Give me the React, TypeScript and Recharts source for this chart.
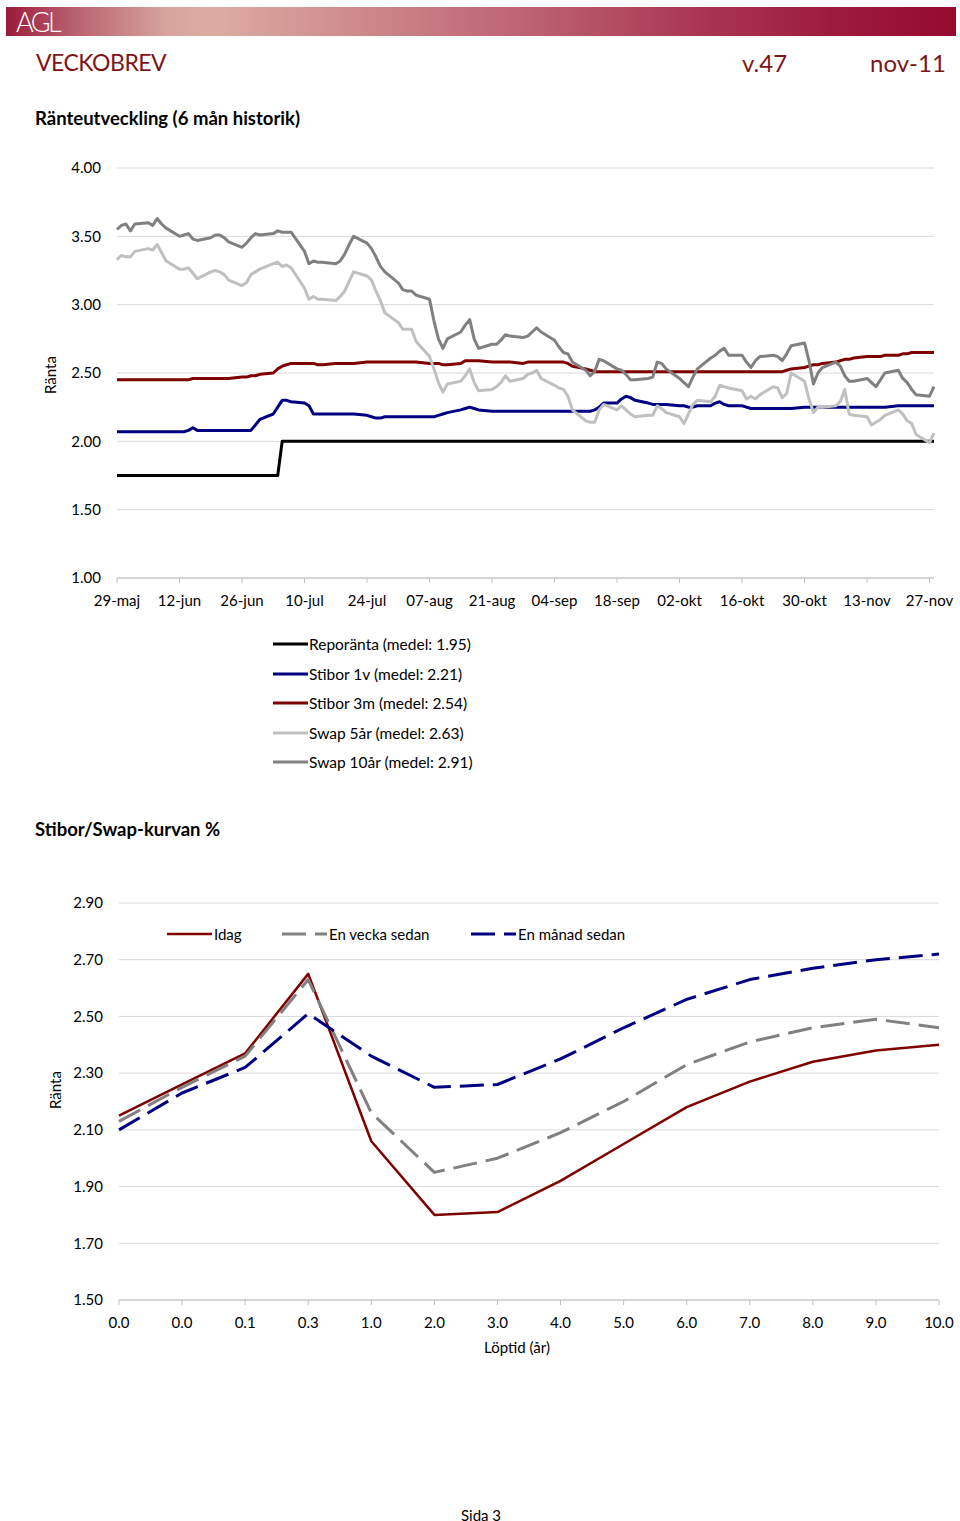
import React from 'react';
import { LineChart, Line, XAxis, YAxis, CartesianGrid } from 'recharts';

const FONT = 'Lato, "Open Sans", sans-serif';

// ---- Ränteutveckling (6 mån historik) ----
const dateLabels = ['29-maj', '12-jun', '26-jun', '10-jul', '24-jul', '07-aug', '21-aug', '04-sep', '18-sep', '02-okt', '16-okt', '30-okt', '13-nov', '27-nov'];
const dateTicks = dateLabels.map((_, i) => i * 14);

// calendar-day offset of every trading day (Mon-Fri), counted from the first axis date
const tradeDays: number[] = [];
for (let w = 0; w < 26; w++) for (let k = 0; k < 5; k++) tradeDays.push(w * 7 + k);
tradeDays.push(182, 183);

// one row per week, 5 trading days each
const repo = [
  1.75, 1.75, 1.75, 1.75, 1.75,
  1.75, 1.75, 1.75, 1.75, 1.75,
  1.75, 1.75, 1.75, 1.75, 1.75,
  1.75, 1.75, 1.75, 1.75, 1.75,
  1.75, 1.75, 1.75, 1.75, 1.75,
  1.75, 1.75, 2.0, 2.0, 2.0,
  2.0, 2.0, 2.0, 2.0, 2.0,
  2.0, 2.0, 2.0, 2.0, 2.0,
  2.0, 2.0, 2.0, 2.0, 2.0,
  2.0, 2.0, 2.0, 2.0, 2.0,
  2.0, 2.0, 2.0, 2.0, 2.0,
  2.0, 2.0, 2.0, 2.0, 2.0,
  2.0, 2.0, 2.0, 2.0, 2.0,
  2.0, 2.0, 2.0, 2.0, 2.0,
  2.0, 2.0, 2.0, 2.0, 2.0,
  2.0, 2.0, 2.0, 2.0, 2.0,
  2.0, 2.0, 2.0, 2.0, 2.0,
  2.0, 2.0, 2.0, 2.0, 2.0,
  2.0, 2.0, 2.0, 2.0, 2.0,
  2.0, 2.0, 2.0, 2.0, 2.0,
  2.0, 2.0, 2.0, 2.0, 2.0,
  2.0, 2.0, 2.0, 2.0, 2.0,
  2.0, 2.0, 2.0, 2.0, 2.0,
  2.0, 2.0, 2.0, 2.0, 2.0,
  2.0, 2.0, 2.0, 2.0, 2.0,
  2.0, 2.0, 2.0, 2.0, 2.0,
  2.0, 2.0,
];

const stibor1v = [
  2.07, 2.07, 2.07, 2.07, 2.07,
  2.07, 2.07, 2.07, 2.07, 2.07,
  2.07, 2.07, 2.08, 2.10, 2.08,
  2.08, 2.08, 2.08, 2.08, 2.08,
  2.08, 2.08, 2.08, 2.12, 2.16,
  2.20, 2.25, 2.30, 2.30, 2.29,
  2.28, 2.26, 2.20, 2.20, 2.20,
  2.20, 2.20, 2.20, 2.20, 2.20,
  2.19, 2.18, 2.17, 2.17, 2.18,
  2.18, 2.18, 2.18, 2.18, 2.18,
  2.18, 2.18, 2.19, 2.20, 2.21,
  2.23, 2.24, 2.25, 2.24, 2.23,
  2.22, 2.22, 2.22, 2.22, 2.22,
  2.22, 2.22, 2.22, 2.22, 2.22,
  2.22, 2.22, 2.22, 2.22, 2.22,
  2.22, 2.22, 2.23, 2.25, 2.28,
  2.28, 2.31, 2.33, 2.32, 2.30,
  2.28, 2.27, 2.27, 2.27, 2.27,
  2.26, 2.26, 2.25, 2.25, 2.26,
  2.26, 2.28, 2.29, 2.27, 2.26,
  2.26, 2.25, 2.24, 2.24, 2.24,
  2.24, 2.24, 2.24, 2.24, 2.24,
  2.25, 2.25, 2.25, 2.25, 2.25,
  2.25, 2.25, 2.25, 2.25, 2.25,
  2.25, 2.25, 2.25, 2.25, 2.25,
  2.26, 2.26, 2.26, 2.26, 2.26,
  2.26, 2.26,
];

const stibor3m = [
  2.45, 2.45, 2.45, 2.45, 2.45,
  2.45, 2.45, 2.45, 2.45, 2.45,
  2.45, 2.45, 2.45, 2.46, 2.46,
  2.46, 2.46, 2.46, 2.46, 2.46,
  2.47, 2.47, 2.48, 2.48, 2.49,
  2.50, 2.53, 2.55, 2.56, 2.57,
  2.57, 2.57, 2.57, 2.56, 2.56,
  2.57, 2.57, 2.57, 2.57, 2.57,
  2.58, 2.58, 2.58, 2.58, 2.58,
  2.58, 2.58, 2.58, 2.58, 2.58,
  2.57, 2.57, 2.57, 2.56, 2.56,
  2.57, 2.59, 2.59, 2.59, 2.59,
  2.58, 2.58, 2.58, 2.58, 2.58,
  2.57, 2.58, 2.58, 2.58, 2.58,
  2.58, 2.58, 2.58, 2.57, 2.55,
  2.53, 2.52, 2.51, 2.51, 2.51,
  2.51, 2.51, 2.51, 2.51, 2.51,
  2.51, 2.51, 2.51, 2.51, 2.51,
  2.51, 2.51, 2.51, 2.51, 2.51,
  2.51, 2.51, 2.51, 2.51, 2.51,
  2.51, 2.51, 2.51, 2.51, 2.51,
  2.51, 2.51, 2.51, 2.52, 2.53,
  2.54, 2.55, 2.56, 2.56, 2.57,
  2.58, 2.59, 2.60, 2.60, 2.61,
  2.62, 2.62, 2.62, 2.62, 2.63,
  2.63, 2.64, 2.64, 2.65, 2.65,
  2.65, 2.65,
];

const swap5 = [
  3.33, 3.36, 3.35, 3.35, 3.39,
  3.41, 3.40, 3.44, 3.38, 3.32,
  3.26, 3.26, 3.27, 3.23, 3.19,
  3.24, 3.25, 3.24, 3.22, 3.18,
  3.14, 3.16, 3.22, 3.24, 3.26,
  3.30, 3.31, 3.28, 3.29, 3.27,
  3.12, 3.04, 3.06, 3.04, 3.04,
  3.03, 3.06, 3.10, 3.17, 3.24,
  3.21, 3.18, 3.10, 3.03, 2.94,
  2.87, 2.82, 2.82, 2.82, 2.73,
  2.62, 2.53, 2.43, 2.36, 2.42,
  2.44, 2.48, 2.53, 2.43, 2.37,
  2.38, 2.40, 2.43, 2.48, 2.44,
  2.46, 2.49, 2.50, 2.52, 2.46,
  2.41, 2.39, 2.38, 2.33, 2.23,
  2.15, 2.14, 2.14, 2.23, 2.27,
  2.23, 2.26, 2.23, 2.20, 2.18,
  2.19, 2.19, 2.26, 2.24, 2.21,
  2.18, 2.13, 2.20, 2.27, 2.30,
  2.29, 2.33, 2.41, 2.40, 2.39,
  2.37, 2.31, 2.33, 2.31, 2.34,
  2.40, 2.39, 2.32, 2.35, 2.50,
  2.44, 2.31, 2.21, 2.25, 2.25,
  2.26, 2.29, 2.38, 2.20, 2.19,
  2.18, 2.12, 2.14, 2.16, 2.19,
  2.23, 2.20, 2.15, 2.13, 2.05,
  1.99, 2.06,
];

const swap10 = [
  3.55, 3.58, 3.59, 3.54, 3.59,
  3.60, 3.58, 3.63, 3.59, 3.56,
  3.50, 3.51, 3.52, 3.48, 3.47,
  3.49, 3.51, 3.51, 3.49, 3.46,
  3.42, 3.45, 3.49, 3.52, 3.51,
  3.52, 3.54, 3.53, 3.53, 3.53,
  3.39, 3.30, 3.32, 3.31, 3.31,
  3.30, 3.32, 3.37, 3.44, 3.50,
  3.45, 3.41, 3.35, 3.28, 3.24,
  3.16, 3.11, 3.10, 3.10, 3.07,
  3.04, 2.88, 2.75, 2.68, 2.75,
  2.80, 2.85, 2.89, 2.75, 2.68,
  2.71, 2.71, 2.74, 2.78, 2.77,
  2.76, 2.77, 2.80, 2.83, 2.80,
  2.74, 2.69, 2.65, 2.64, 2.58,
  2.52, 2.48, 2.51, 2.60, 2.59,
  2.53, 2.52, 2.49, 2.45, 2.45,
  2.46, 2.47, 2.58, 2.57, 2.53,
  2.46, 2.43, 2.40, 2.47, 2.53,
  2.61, 2.63, 2.66, 2.68, 2.63,
  2.63, 2.58, 2.54, 2.59, 2.62,
  2.63, 2.62, 2.59, 2.64, 2.70,
  2.72, 2.59, 2.42, 2.50, 2.54,
  2.58, 2.55, 2.48, 2.44, 2.44,
  2.46, 2.43, 2.40, 2.45, 2.50,
  2.52, 2.46, 2.43, 2.38, 2.34,
  2.33, 2.40,
];

const rateTicks = [1, 1.5, 2, 2.5, 3, 3.5, 4];

const rateSeries = [
  { key: 'repo', name: 'Reporänta (medel: 1.95)', color: '#000000' },
  { key: 'stibor1v', name: 'Stibor 1v (medel: 2.21)', color: '#000080' },
  { key: 'stibor3m', name: 'Stibor 3m (medel: 2.54)', color: '#7f0000' },
  { key: 'swap5', name: 'Swap 5år (medel: 2.63)', color: '#c0c0c0' },
  { key: 'swap10', name: 'Swap 10år (medel: 2.91)', color: '#808080' },
];

const rateData = tradeDays.map((d, i) => ({
  d,
  repo: repo[i],
  stibor1v: stibor1v[i],
  stibor3m: stibor3m[i],
  swap5: swap5[i],
  swap10: swap10[i],
}));

// ---- Stibor/Swap-kurvan ----
const tenors = ['0.0', '0.0', '0.1', '0.3', '1.0', '2.0', '3.0', '4.0', '5.0', '6.0', '7.0', '8.0', '9.0', '10.0'];
const idag = [2.15, 2.26, 2.37, 2.65, 2.06, 1.80, 1.81, 1.92, 2.05, 2.18, 2.27, 2.34, 2.38, 2.40];
const enVecka = [2.13, 2.25, 2.36, 2.63, 2.16, 1.95, 2.00, 2.09, 2.20, 2.33, 2.41, 2.46, 2.49, 2.46];
const enManad = [2.10, 2.23, 2.32, 2.51, 2.36, 2.25, 2.26, 2.35, 2.46, 2.56, 2.63, 2.67, 2.70, 2.72];
const curveTicks = [1.5, 1.7, 1.9, 2.1, 2.3, 2.5, 2.7, 2.9];

const curveSeries = [
  { key: 'idag', name: 'Idag', color: '#7f0000', width: 2.5, dash: undefined },
  { key: 'vecka', name: 'En vecka sedan', color: '#808080', width: 3, dash: '24 9' },
  { key: 'manad', name: 'En månad sedan', color: '#000080', width: 3, dash: '24 9' },
];

const curveData = tenors.map((t, i) => ({ k: i, idag: idag[i], vecka: enVecka[i], manad: enManad[i] }));

const tickStyle = { fill: '#000', fontSize: 15, fontFamily: FONT };

const Txt = ({ x, y, size, children, color = '#000', weight = 400, center = false, spacing = 0 }: any) => (
  <div
    style={{
      position: 'absolute',
      left: x,
      top: y - size * 0.6,
      lineHeight: `${size * 1.2}px`,
      fontSize: size,
      fontWeight: weight,
      color,
      fontFamily: FONT,
      letterSpacing: spacing,
      whiteSpace: 'nowrap',
      transform: center ? 'translateX(-50%)' : undefined,
    }}
  >
    {children}
  </div>
);

const Swatch = ({ color, w, width = 3, dash }: any) => (
  <svg width={w} height={10} style={{ display: 'block', flex: 'none' }}>
    <line x1={0} y1={5} x2={w} y2={5} stroke={color} strokeWidth={width} strokeDasharray={dash} />
  </svg>
);

const App: React.FC = () => {
  return (
    <div style={{ position: 'absolute', left: 0, top: 0, width: 960, height: 1521, background: '#fff', fontFamily: FONT }}>
      {/* header band */}
      <div
        style={{
          position: 'absolute', left: 6, top: 7, width: 950, height: 29,
          background: 'linear-gradient(to right, #9c1a3a 0%, #b8606e 7%, #d8a49e 17%, #dcaca2 22%, #cf8c8e 36%, #bd6272 55%, #a83450 74%, #9c1a3c 88%, #960a30 100%)',
        }}
      >
        <div style={{ position: 'absolute', left: 10, top: 0, lineHeight: '29px', fontSize: 27, color: '#fff', letterSpacing: -2.5, fontFamily: FONT, fontWeight: 300 }}>AGL</div>
      </div>
      <Txt x={36} y={63} size={23} color="#7d1518" spacing={-0.5}>VECKOBREV</Txt>
      <Txt x={742} y={63} size={24} color="#7d1518">v.47</Txt>
      <Txt x={870} y={63} size={24} color="#7d1518">nov-11</Txt>

      <Txt x={35} y={118} size={18.5} weight={700}>Ränteutveckling (6 mån historik)</Txt>

      {/* rate history chart */}
      <div style={{ position: 'absolute', left: 0, top: 150 }}>
        <LineChart width={960} height={463} data={rateData} margin={{ top: 18, right: 26, bottom: 5, left: 57 }}>
          <CartesianGrid vertical={false} stroke="#d9d9d9" />
          <XAxis
            dataKey="d" type="number" domain={[0, 183]} ticks={dateTicks}
            tickFormatter={(v: number) => dateLabels[Math.round(v / 14)]}
            stroke="#bfbfbf" tickSize={5} tickMargin={12} height={30} tick={tickStyle} interval={0}
          />
          <YAxis
            domain={[1, 4]} ticks={rateTicks} tickFormatter={(v: number) => v.toFixed(2)}
            axisLine={false} tickLine={false} tickSize={0} tickMargin={16} width={60} tick={tickStyle}
          />
          {rateSeries.map((s) => (
            <Line
              key={s.key} dataKey={s.key} type="linear" stroke={s.color} strokeWidth={3}
              strokeLinejoin="round" dot={false} isAnimationActive={false}
            />
          ))}
        </LineChart>
      </div>
      <div style={{ position: 'absolute', left: 50, top: 375, transform: 'translate(-50%, -50%) rotate(-90deg)', fontSize: 15, fontFamily: FONT }}>Ränta</div>

      {/* legend for rate history */}
      {rateSeries.map((s, i) => (
        <div key={s.key} style={{ position: 'absolute', left: 273, top: 644 + i * 29.5 - 10, height: 20, display: 'flex', alignItems: 'center', fontSize: 15.5, fontFamily: FONT }}>
          <Swatch color={s.color} w={35} />
          <span style={{ marginLeft: 1 }}>{s.name}</span>
        </div>
      ))}

      <Txt x={35} y={829} size={18.5} weight={700}>Stibor/Swap-kurvan %</Txt>

      {/* yield curve chart */}
      <div style={{ position: 'absolute', left: 0, top: 880 }}>
        <LineChart width={960} height={455} data={curveData} margin={{ top: 23, right: 21, bottom: 5, left: 59 }}>
          <CartesianGrid vertical={false} stroke="#d9d9d9" />
          <XAxis
            dataKey="k" type="category" tickFormatter={(v: number) => tenors[v]}
            stroke="#bfbfbf" tickSize={5} tickMargin={12} height={30} tick={tickStyle} interval={0}
          />
          <YAxis
            domain={[1.5, 2.9]} ticks={curveTicks} tickFormatter={(v: number) => v.toFixed(2)}
            axisLine={false} tickLine={false} tickSize={0} tickMargin={16} width={60} tick={tickStyle}
          />
          {curveSeries.map((s) => (
            <Line
              key={s.key} dataKey={s.key} type="linear" stroke={s.color} strokeWidth={s.width}
              strokeDasharray={s.dash} strokeLinejoin="round" dot={false} isAnimationActive={false}
            />
          ))}
        </LineChart>
      </div>
      <div style={{ position: 'absolute', left: 55, top: 1090, transform: 'translate(-50%, -50%) rotate(-90deg)', fontSize: 15, fontFamily: FONT }}>Ränta</div>
      <Txt x={517} y={1347} size={15} center>Löptid (år)</Txt>

      {/* legend for yield curve */}
      {curveSeries.map((s, i) => (
        <div key={s.key} style={{ position: 'absolute', left: [167, 282, 471][i], top: 924, height: 20, display: 'flex', alignItems: 'center', fontSize: 15, fontFamily: FONT }}>
          <Swatch color={s.color} w={45} width={s.width} dash={s.dash} />
          <span style={{ marginLeft: 2 }}>{s.name}</span>
        </div>
      ))}

      <Txt x={481} y={1515} size={15} center>Sida 3</Txt>
    </div>
  );
};

export default App;
